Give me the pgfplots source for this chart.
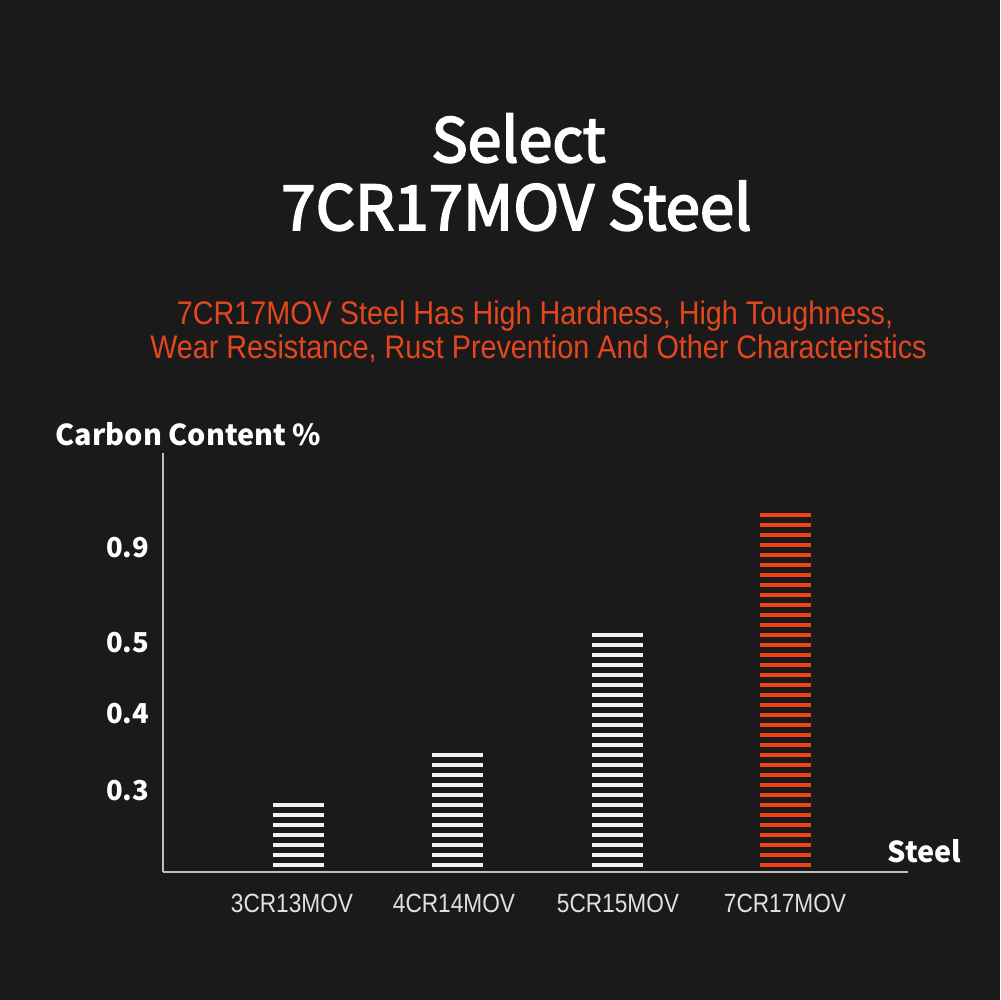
\documentclass[border=0pt]{standalone}
\usepackage{fontspec}
\usepackage{pgfplots}
\pgfplotsset{compat=1.18}
\setmainfont{Noto Sans CJK SC}
\newfontfamily\titlefont[FakeBold=3]{Noto Sans CJK SC}
\newfontfamily\narrowfont[FakeStretch=0.88]{Liberation Sans}
\newfontfamily\labelfont[FakeStretch=0.86]{Liberation Sans}
\definecolor{bg}{RGB}{26,26,26}
\definecolor{accent}{RGB}{240,66,20}
\definecolor{subred}{RGB}{228,70,30}
\definecolor{axisgray}{RGB}{190,190,190}
\begin{document}
\begin{tikzpicture}[x=0.1mm,y=0.1mm]
\fill[bg] (0,0) rectangle (1000,1000);
% titles
\node[anchor=base, white, inner sep=0pt, font=\titlefont\fontsize{17.3}{20}\selectfont] at (518.5,838) {Select};
\node[anchor=base, white, inner sep=0pt, font=\titlefont\fontsize{17.6}{20}\selectfont] at (516.5,770) {7CR17MOV Steel};
\node[anchor=base, text=subred, inner sep=0pt, font=\narrowfont\fontsize{9.3}{10}\selectfont] at (535,675) {7CR17MOV Steel Has High Hardness, High Toughness,};
\node[anchor=base, text=subred, inner sep=0pt, font=\narrowfont\fontsize{9.3}{10}\selectfont] at (538.5,641) {Wear Resistance, Rust Prevention And Other Characteristics};
\node[anchor=base west, white, inner sep=0pt, font=\bfseries\fontsize{8.2}{9}\selectfont] at (55,554) {Carbon Content \%};
\node[anchor=base west, white, inner sep=0pt, font=\bfseries\fontsize{8.2}{9}\selectfont] at (887,137) {Steel};
\begin{axis}[
  at={(163,128)}, anchor=south west,
  scale only axis, width=74.5mm, height=41.9mm,
  xmin=163, xmax=908, ymin=0, ymax=419,
  axis x line=bottom, axis y line=left,
  axis line style={-, draw=axisgray, line width=0.2mm},
  major tick length=0pt, tick style={draw=none},
  xtick={292,454,618,785},
  xticklabels={3CR13MOV,4CR14MOV,5CR15MOV,7CR17MOV},
  ytick={81,158,229,324},
  yticklabels={0.3,0.4,0.5,0.9},
  xticklabel style={anchor=base, yshift=-4.1mm, inner sep=0pt, text=white!88!black, font=\labelfont\fontsize{7.5}{9}\selectfont},
  yticklabel style={anchor=east, xshift=-1.3mm, inner sep=0pt, text=white, font=\bfseries\fontsize{7.8}{9}\selectfont},
  clip=false,
]
\addplot[no marks, white!95!black, line width=5.1mm, line cap=butt, dash pattern=on 0.4mm off 0.6mm] coordinates {(298,5) (298,69)};
\addplot[no marks, white!95!black, line width=5.1mm, line cap=butt, dash pattern=on 0.4mm off 0.6mm] coordinates {(457.5,5) (457.5,119)};
\addplot[no marks, white!95!black, line width=5.1mm, line cap=butt, dash pattern=on 0.4mm off 0.6mm] coordinates {(617,5) (617,239)};
\addplot[no marks, accent, line width=5.1mm, line cap=butt, dash pattern=on 0.4mm off 0.6mm] coordinates {(785,5) (785,359)};
\end{axis}
\end{tikzpicture}
\end{document}
